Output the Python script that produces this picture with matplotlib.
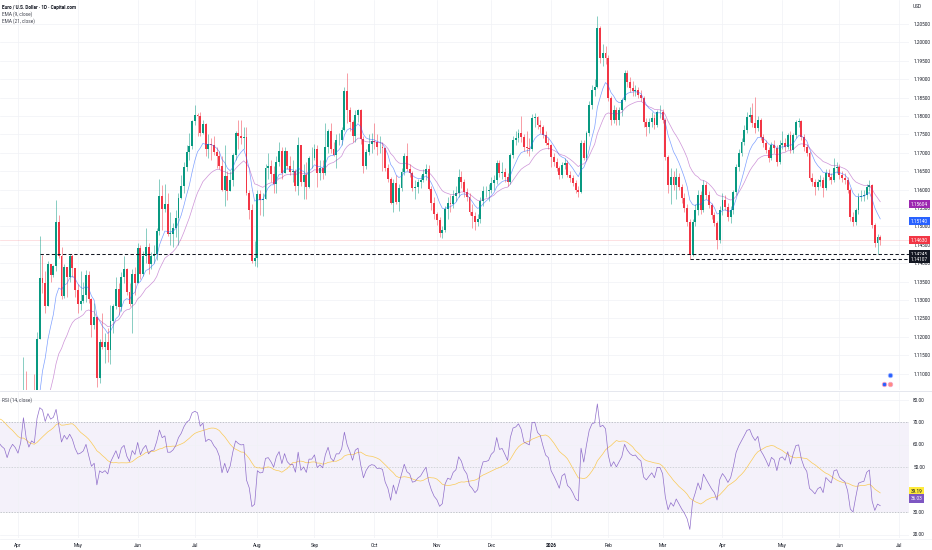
import numpy as np
import pandas as pd
import matplotlib
matplotlib.use("Agg")
import matplotlib.pyplot as plt
import matplotlib.transforms as mtrans
from matplotlib.lines import Line2D

plt.rcParams['font.family'] = ['Roboto', 'DejaVu Sans']

# ---------------- data ----------------
# closes before the first visible bar (used only to warm up EMA / RSI)
warmup_close = [1.0345, 1.0378, 1.0403, 1.0384, 1.0330, 1.0307, 1.0362, 1.0385, 1.0465, 1.0491,
                1.0483, 1.0446, 1.0425, 1.0501, 1.0458, 1.0466, 1.0512, 1.0484, 1.0398, 1.0375,
                1.0483, 1.0625, 1.0789, 1.0784, 1.0833, 1.0833, 1.0918, 1.0888, 1.0853, 1.0880,
                1.0922, 1.0944, 1.0901, 1.0853, 1.0817, 1.0802, 1.0792, 1.0753, 1.0800, 1.0829,
                1.0816]

close = [
    # Apr
    1.0794, 1.0853, 1.1049, 1.0957, 1.0909, 1.0958, 1.0948, 1.1195, 1.1359, 1.1347,
    1.1284, 1.1398, 1.1367, 1.1392, 1.1512, 1.1420, 1.1311, 1.1389, 1.1362, 1.1420,
    1.1387, 1.1328,
    # May
    1.1289, 1.1298, 1.1315, 1.1369, 1.1302, 1.1232, 1.1253, 1.1088, 1.1187, 1.1173,
    1.1187, 1.1163, 1.1243, 1.1285, 1.1329, 1.1281, 1.1363, 1.1385, 1.1323, 1.1290,
    1.1370, 1.1347,
    # Jun
    1.1442, 1.1370, 1.1419, 1.1445, 1.1397, 1.1420, 1.1425, 1.1487, 1.1584, 1.1547,
    1.1562, 1.1480, 1.1480, 1.1495, 1.1523, 1.1578, 1.1610, 1.1662, 1.1702, 1.1718,
    1.1787,
    # Jul
    1.1804, 1.1799, 1.1754, 1.1778, 1.1710, 1.1725, 1.1720, 1.1702, 1.1690, 1.1665,
    1.1598, 1.1638, 1.1597, 1.1625, 1.1693, 1.1755, 1.1745, 1.1740, 1.1742, 1.1590,
    1.1545, 1.1405, 1.1415,
    # Aug
    1.1587, 1.1572, 1.1575, 1.1660, 1.1665, 1.1643, 1.1615, 1.1675, 1.1705, 1.1645,
    1.1705, 1.1663, 1.1648, 1.1650, 1.1610, 1.1720, 1.1620, 1.1640, 1.1608, 1.1685,
    1.1685,
    # Sep
    1.1710, 1.1645, 1.1660, 1.1645, 1.1715, 1.1760, 1.1710, 1.1695, 1.1735, 1.1735,
    1.1762, 1.1867, 1.1815, 1.1785, 1.1745, 1.1803, 1.1815, 1.1737, 1.1665, 1.1703,
    1.1725, 1.1733,
    # Oct
    1.1730, 1.1716, 1.1717, 1.1712, 1.1658, 1.1628, 1.1563, 1.1617, 1.1567, 1.1605,
    1.1647, 1.1690, 1.1655, 1.1645, 1.1605, 1.1608, 1.1620, 1.1627, 1.1643, 1.1657,
    1.1603, 1.1565, 1.1535,
    # Nov
    1.1518, 1.1483, 1.1490, 1.1546, 1.1565, 1.1560, 1.1582, 1.1590, 1.1633, 1.1620,
    1.1593, 1.1580, 1.1540, 1.1528, 1.1512, 1.1519, 1.1568, 1.1596, 1.1597, 1.1600,
    # Dec
    1.1618, 1.1626, 1.1672, 1.1645, 1.1648, 1.1635, 1.1621, 1.1694, 1.1735, 1.1740,
    1.1754, 1.1743, 1.1716, 1.1713, 1.1710, 1.1795, 1.1797, 1.1776, 1.1770, 1.1748,
    1.1727, 1.1721,
    # Jan 2026
    1.1689, 1.1675, 1.1659, 1.1640, 1.1667, 1.1672, 1.1640, 1.1632, 1.1618, 1.1599,
    1.1593, 1.1727, 1.1686, 1.1754, 1.1830, 1.1871, 1.1879, 1.2039, 1.1958, 1.1971,
    1.1958,
    # Feb
    1.1849, 1.1789, 1.1816, 1.1789, 1.1816, 1.1844, 1.1917, 1.1892, 1.1876, 1.1868,
    1.1871, 1.1857, 1.1849, 1.1783, 1.1770, 1.1783, 1.1795, 1.1776, 1.1811, 1.1811,
    # Mar
    1.1789, 1.1689, 1.1613, 1.1635, 1.1613, 1.1635, 1.1607, 1.1577, 1.1550, 1.1512,
    1.1422, 1.1512, 1.1545, 1.1585, 1.1545, 1.1613, 1.1585, 1.1558, 1.1531, 1.1509,
    1.1463, 1.1545,
    # Apr
    1.1572, 1.1553, 1.1526, 1.1545, 1.1593, 1.1662, 1.1700, 1.1730, 1.1762, 1.1797,
    1.1803, 1.1781, 1.1767, 1.1789, 1.1743, 1.1727, 1.1708, 1.1686, 1.1721, 1.1713,
    1.1675, 1.1721,
    # May
    1.1727, 1.1716, 1.1748, 1.1708, 1.1748, 1.1783, 1.1786, 1.1743, 1.1716, 1.1700,
    1.1632, 1.1621, 1.1607, 1.1621, 1.1626, 1.1604, 1.1645, 1.1635, 1.1626, 1.1659,
    1.1662,
    # Jun
    1.1640, 1.1632, 1.1626, 1.1599, 1.1526, 1.1512, 1.1545, 1.1580, 1.1583, 1.1585,
    1.1607, 1.1613, 1.1504, 1.1455, 1.1471, 1.1463,
]

high = [
    1.0831, 1.0882, 1.1144, 1.1107, 1.1045, 1.1000, 1.1099, 1.1214, 1.1474, 1.1422,
    1.1380, 1.1405, 1.1391, 1.1395, 1.1573, 1.1531, 1.1445, 1.1398, 1.1387, 1.1424,
    1.1424, 1.1383,
    1.1343, 1.1380, 1.1349, 1.1381, 1.1380, 1.1305, 1.1293, 1.1253, 1.1195, 1.1265,
    1.1210, 1.1225, 1.1287, 1.1290, 1.1363, 1.1345, 1.1376, 1.1419, 1.1386, 1.1345,
    1.1385, 1.1391,
    1.1455, 1.1450, 1.1434, 1.1495, 1.1455, 1.1430, 1.1450, 1.1495, 1.1630, 1.1613,
    1.1615, 1.1590, 1.1540, 1.1510, 1.1545, 1.1590, 1.1641, 1.1675, 1.1720, 1.1754,
    1.1790,
    1.1830, 1.1808, 1.1810, 1.1790, 1.1780, 1.1750, 1.1740, 1.1745, 1.1715, 1.1705,
    1.1690, 1.1721, 1.1650, 1.1650, 1.1700, 1.1760, 1.1790, 1.1789, 1.1770, 1.1770,
    1.1600, 1.1560, 1.1460,
    1.1600, 1.1598, 1.1590, 1.1670, 1.1700, 1.1680, 1.1665, 1.1690, 1.1730, 1.1715,
    1.1715, 1.1705, 1.1690, 1.1680, 1.1655, 1.1742, 1.1720, 1.1670, 1.1675, 1.1690,
    1.1715,
    1.1725, 1.1720, 1.1680, 1.1680, 1.1780, 1.1765, 1.1780, 1.1730, 1.1750, 1.1755,
    1.1770, 1.1878, 1.1918, 1.1825, 1.1790, 1.1815, 1.1820, 1.1818, 1.1745, 1.1710,
    1.1750, 1.1755,
    1.1780, 1.1750, 1.1745, 1.1730, 1.1715, 1.1670, 1.1635, 1.1630, 1.1640, 1.1615,
    1.1660, 1.1700, 1.1728, 1.1670, 1.1650, 1.1625, 1.1630, 1.1640, 1.1655, 1.1670,
    1.1668, 1.1610, 1.1580,
    1.1540, 1.1525, 1.1500, 1.1555, 1.1580, 1.1585, 1.1600, 1.1610, 1.1655, 1.1650,
    1.1630, 1.1605, 1.1590, 1.1560, 1.1540, 1.1535, 1.1580, 1.1610, 1.1610, 1.1615,
    1.1635, 1.1640, 1.1680, 1.1680, 1.1675, 1.1660, 1.1645, 1.1700, 1.1745, 1.1760,
    1.1765, 1.1800, 1.1750, 1.1760, 1.1740, 1.1805, 1.1808, 1.1800, 1.1790, 1.1775,
    1.1760, 1.1740,
    1.1725, 1.1700, 1.1685, 1.1665, 1.1675, 1.1685, 1.1680, 1.1650, 1.1640, 1.1625,
    1.1610, 1.1735, 1.1735, 1.1760, 1.1840, 1.1885, 1.1900, 1.2072, 1.2045, 1.1995,
    1.1990,
    1.1965, 1.1855, 1.1830, 1.1825, 1.1825, 1.1850, 1.1925, 1.1925, 1.1905, 1.1895,
    1.1885, 1.1880, 1.1870, 1.1855, 1.1795, 1.1795, 1.1810, 1.1805, 1.1815, 1.1830,
    1.1820, 1.1795, 1.1695, 1.1660, 1.1650, 1.1660, 1.1645, 1.1615, 1.1590, 1.1560,
    1.1520, 1.1520, 1.1560, 1.1600, 1.1595, 1.1625, 1.1620, 1.1595, 1.1565, 1.1540,
    1.1515, 1.1555,
    1.1590, 1.1585, 1.1565, 1.1555, 1.1600, 1.1670, 1.1710, 1.1740, 1.1775, 1.1810,
    1.1825, 1.1835, 1.1852, 1.1800, 1.1795, 1.1750, 1.1735, 1.1715, 1.1730, 1.1735,
    1.1720, 1.1735,
    1.1760, 1.1740, 1.1755, 1.1760, 1.1755, 1.1790, 1.1795, 1.1790, 1.1750, 1.1725,
    1.1705, 1.1645, 1.1630, 1.1630, 1.1640, 1.1635, 1.1655, 1.1655, 1.1645, 1.1685,
    1.1675,
    1.1670, 1.1650, 1.1645, 1.1635, 1.1605, 1.1540, 1.1550, 1.1590, 1.1600, 1.1600,
    1.1615, 1.1625, 1.1615, 1.1510, 1.1480, 1.1478,
]

low = [
    1.0778, 1.0778, 1.0852, 1.0956, 1.0879, 1.0883, 1.0944, 1.0946, 1.1195, 1.1319,
    1.1265, 1.1283, 1.1350, 1.1363, 1.1380, 1.1415, 1.1302, 1.1306, 1.1307, 1.1348,
    1.1362, 1.1309,
    1.1266, 1.1273, 1.1291, 1.1294, 1.1293, 1.1200, 1.1220, 1.1065, 1.1075, 1.1167,
    1.1130, 1.1131, 1.1126, 1.1210, 1.1277, 1.1258, 1.1271, 1.1345, 1.1314, 1.1285,
    1.1210, 1.1314,
    1.1345, 1.1358, 1.1364, 1.1400, 1.1372, 1.1385, 1.1400, 1.1410, 1.1478, 1.1490,
    1.1538, 1.1475, 1.1450, 1.1445, 1.1470, 1.1450, 1.1575, 1.1590, 1.1650, 1.1680,
    1.1710,
    1.1775, 1.1745, 1.1745, 1.1750, 1.1690, 1.1685, 1.1680, 1.1695, 1.1660, 1.1655,
    1.1595, 1.1556, 1.1572, 1.1597, 1.1610, 1.1680, 1.1710, 1.1725, 1.1710, 1.1585,
    1.1520, 1.1400, 1.1392,
    1.1391, 1.1530, 1.1528, 1.1575, 1.1630, 1.1620, 1.1590, 1.1590, 1.1665, 1.1630,
    1.1645, 1.1655, 1.1640, 1.1620, 1.1595, 1.1585, 1.1610, 1.1575, 1.1575, 1.1605,
    1.1660,
    1.1680, 1.1608, 1.1625, 1.1630, 1.1640, 1.1700, 1.1700, 1.1690, 1.1660, 1.1720,
    1.1720, 1.1760, 1.1780, 1.1760, 1.1730, 1.1730, 1.1785, 1.1725, 1.1645, 1.1657,
    1.1695, 1.1700,
    1.1710, 1.1695, 1.1700, 1.1650, 1.1650, 1.1620, 1.1560, 1.1540, 1.1560, 1.1542,
    1.1595, 1.1640, 1.1650, 1.1635, 1.1595, 1.1575, 1.1590, 1.1605, 1.1620, 1.1625,
    1.1600, 1.1545, 1.1520,
    1.1505, 1.1470, 1.1468, 1.1485, 1.1520, 1.1540, 1.1550, 1.1570, 1.1580, 1.1605,
    1.1580, 1.1570, 1.1530, 1.1495, 1.1490, 1.1500, 1.1510, 1.1555, 1.1580, 1.1570,
    1.1590, 1.1600, 1.1615, 1.1635, 1.1630, 1.1620, 1.1610, 1.1615, 1.1685, 1.1720,
    1.1730, 1.1730, 1.1705, 1.1700, 1.1690, 1.1705, 1.1770, 1.1765, 1.1755, 1.1740,
    1.1720, 1.1710,
    1.1662, 1.1665, 1.1650, 1.1630, 1.1632, 1.1655, 1.1635, 1.1620, 1.1610, 1.1590,
    1.1580, 1.1590, 1.1680, 1.1680, 1.1745, 1.1820, 1.1855, 1.1875, 1.1945, 1.1935,
    1.1940,
    1.1840, 1.1775, 1.1780, 1.1775, 1.1775, 1.1800, 1.1840, 1.1880, 1.1865, 1.1855,
    1.1855, 1.1850, 1.1840, 1.1770, 1.1745, 1.1755, 1.1770, 1.1765, 1.1770, 1.1795,
    1.1780, 1.1680, 1.1590, 1.1560, 1.1600, 1.1575, 1.1600, 1.1565, 1.1540, 1.1500,
    1.1411, 1.1420, 1.1500, 1.1530, 1.1535, 1.1540, 1.1575, 1.1550, 1.1520, 1.1500,
    1.1440, 1.1455,
    1.1530, 1.1545, 1.1515, 1.1510, 1.1535, 1.1585, 1.1650, 1.1690, 1.1720, 1.1755,
    1.1785, 1.1770, 1.1755, 1.1760, 1.1735, 1.1715, 1.1700, 1.1675, 1.1680, 1.1700,
    1.1665, 1.1670,
    1.1710, 1.1705, 1.1710, 1.1700, 1.1700, 1.1740, 1.1770, 1.1735, 1.1705, 1.1690,
    1.1625, 1.1610, 1.1585, 1.1600, 1.1610, 1.1580, 1.1600, 1.1625, 1.1615, 1.1620,
    1.1645,
    1.1630, 1.1620, 1.1615, 1.1590, 1.1515, 1.1500, 1.1505, 1.1535, 1.1570, 1.1570,
    1.1575, 1.1595, 1.1495, 1.1445, 1.1424, 1.1450,
]

month_labels = ['Apr', 'May', 'Jun', 'Jul', 'Aug', 'Sep', 'Oct', 'Nov', 'Dec',
                '2026', 'Feb', 'Mar', 'Apr', 'May', 'Jun', 'Jul']
month_start = [0, 22, 44, 65, 88, 109, 131, 154, 174, 196, 217, 237, 259, 281, 302, 324]

price_ticks = [1.110, 1.115, 1.120, 1.125, 1.130, 1.135, 1.140, 1.145, 1.150, 1.155,
               1.160, 1.165, 1.170, 1.175, 1.180, 1.185, 1.190, 1.195, 1.200, 1.205]
rsi_ticks = [20, 30, 50, 60, 70, 80]

level_values = [1.14245, 1.14107]
level_start = [8, 247]

ema21_last = 1.15604
ema9_last = 1.15140
last_price = 1.14630
rsi_last = 36.03
rsi_ma_last = 39.19

# ---------------- indicators ----------------
W = len(warmup_close)
allc = np.array(warmup_close + close, dtype=float)
n = len(close)
x_all = np.arange(-W, n)
x = np.arange(n)
C = np.array(close)
O = allc[W - 1:-1]
H = np.maximum(np.array(high), np.maximum(O, C))
L = np.minimum(np.array(low), np.minimum(O, C))


def ema(src, length):
    out = np.full(len(src), np.nan)
    out[length - 1] = src[:length].mean()
    a = 2.0 / (length + 1)
    for k in range(length, len(src)):
        out[k] = a * src[k] + (1 - a) * out[k - 1]
    return out


def rsi(src, length=14):
    d = np.diff(src)
    up = np.maximum(d, 0)
    dn = np.maximum(-d, 0)
    out = np.full(len(src), np.nan)
    au = up[:length].mean()
    ad = dn[:length].mean()
    out[length] = 100 - 100 / (1 + au / ad)
    for k in range(length + 1, len(src)):
        au = (au * (length - 1) + up[k - 1]) / length
        ad = (ad * (length - 1) + dn[k - 1]) / length
        out[k] = 100.0 if ad == 0 else 100 - 100 / (1 + au / ad)
    return out


ema9 = ema(allc, 9)
ema21 = ema(allc, 21)
rsi14 = rsi(allc, 14)
rsi_ma = pd.Series(rsi14).rolling(14).mean().values

# ---------------- figure ----------------
FW, FH = 932, 550
fig = plt.figure(figsize=(FW / 100, FH / 100), dpi=100)
fig.patch.set_facecolor('white')


def fx(px):
    return px / FW


def fy(py):
    return 1 - py / FH


ax = fig.add_axes([0, fy(390), fx(909), 390 / FH])
ax2 = fig.add_axes([0, fy(538), fx(909), 146 / FH])

GREEN = '#089981'
RED = '#f23645'
TXT = '#131722'
GRID = '#f0f2f6'
FS = 3.4

x_left = -18 / 2.72
x_right = (909 - 18) / 2.72

# candles
cols = np.where(C >= O, GREEN, RED)
ax.vlines(x, L, H, colors=cols, lw=0.4, alpha=0.85, zorder=3)
body = np.maximum(np.abs(C - O), 0.00008)
ax.bar(x, body, bottom=np.minimum(O, C), width=0.72, color=cols, lw=0, zorder=4)

ax.plot(x_all, ema9, color='#2962ff', lw=0.5, alpha=0.6, zorder=5)
ax.plot(x_all, ema21, color='#9c27b0', lw=0.5, alpha=0.5, zorder=5)

ax.axhline(last_price, color=RED, lw=0.5, alpha=0.22, zorder=2)
for v, s in zip(level_values, level_start):
    ax.hlines(v, s, x_right, colors=TXT, lw=0.75, linestyles=(0, (3.2, 2.2)), zorder=6)

ax.set_xlim(x_left, x_right)
ax.set_ylim(1.21152 - 0.0002717 * 390, 1.21152)
ax.set_xticks(month_start)
ax.set_yticks(price_ticks)
ax.set_yticklabels([f'{t:.5f}' for t in price_ticks])
ax.yaxis.tick_right()
ax.tick_params(axis='x', length=0, labelbottom=False)
ax.tick_params(axis='y', length=0, pad=3, labelsize=FS, labelcolor=TXT)
ax.grid(True, color=GRID, lw=0.5, zorder=0)
for s in ax.spines.values():
    s.set_visible(False)

# price-scale boxes
trans = mtrans.blended_transform_factory(fig.transFigure, ax.transData)
for val, txt, col in [(ema21_last, f'{ema21_last:.5f}', '#9c27b0'),
                      (ema9_last, f'{ema9_last:.5f}', '#2962ff'),
                      (last_price, f'{last_price:.5f}', RED),
                      (level_values[0], f'{level_values[0]:.5f}', TXT),
                      (level_values[1], f'{level_values[1]:.5f}', TXT)]:
    ax.text(fx(911), val, txt, transform=trans, ha='left', va='center', fontsize=FS,
            color='white', clip_on=False, zorder=20,
            bbox=dict(boxstyle='square,pad=0.35', fc=col, ec='none'))

# RSI pane
ax2.axhspan(30, 70, color='#7e57c2', alpha=0.08, lw=0, zorder=1)
for lv, a in [(70, 0.55), (50, 0.35), (30, 0.55)]:
    ax2.axhline(lv, color='#787b86', lw=0.5, alpha=a, ls=(0, (2, 2)), zorder=2)
ax2.plot(x_all, rsi_ma, color='#fbc02d', lw=0.5, alpha=0.8, zorder=3)
ax2.plot(x_all, rsi14, color='#7e57c2', lw=0.5, alpha=0.85, zorder=4)
ax2.set_xlim(x_left, x_right)
ax2.set_ylim(50 - 71 / 2.25, 50 + 75 / 2.25)
ax2.set_yticks(rsi_ticks)
ax2.set_yticklabels([f'{t:.2f}' for t in rsi_ticks])
ax2.yaxis.tick_right()
ax2.set_xticks(month_start)
ax2.set_xticklabels(month_labels)
for lab in ax2.get_xticklabels():
    if lab.get_text() == '2026':
        lab.set_fontweight('bold')
ax2.tick_params(axis='x', length=0, pad=3.3, labelsize=FS, labelcolor=TXT)
ax2.tick_params(axis='y', length=0, pad=3, labelsize=FS, labelcolor=TXT)
ax2.grid(True, color=GRID, lw=0.5, zorder=0)
for s in ax2.spines.values():
    s.set_visible(False)

trans2 = mtrans.blended_transform_factory(fig.transFigure, ax2.transData)
ax2.text(fx(911), rsi_ma_last, f'{rsi_ma_last:.2f}', transform=trans2, ha='left', va='center',
         fontsize=FS, color=TXT, clip_on=False, zorder=20,
         bbox=dict(boxstyle='square,pad=0.35', fc='#ffeb3b', ec='none'))
ax2.text(fx(911), rsi_last, f'{rsi_last:.2f}', transform=trans2, ha='left', va='center',
         fontsize=FS, color='white', clip_on=False, zorder=20,
         bbox=dict(boxstyle='square,pad=0.35', fc='#7e57c2', ec='none'))

# separators
fig.add_artist(Line2D([0, 1], [fy(391), fy(391)], color='#e0e3eb', lw=0.6))
fig.add_artist(Line2D([0, 1], [fy(538.5), fy(538.5)], color='#eef0f4', lw=0.5))

# header texts
fig.text(fx(2), fy(7), 'Euro / U.S. Dollar · 1D · Capital.com', fontsize=FS, color=TXT,
         fontweight='bold', va='center', ha='left')
fig.text(fx(2), fy(14), 'EMA (9, close)', fontsize=FS, color='#434651', va='center', ha='left')
fig.text(fx(2), fy(21), 'EMA (21, close)', fontsize=FS, color='#434651', va='center', ha='left')
fig.text(fx(2), fy(400), 'RSI (14, close)', fontsize=FS, color='#434651', va='center', ha='left')
fig.text(fx(913), fy(7), 'USD', fontsize=FS, color=TXT, va='center', ha='left')

# small pane icons
fig.add_artist(Line2D([fx(890)], [fy(375)], marker='o', ms=3.2, mfc='#2962ff', mec='#9fb4ff', mew=0.6))
fig.add_artist(Line2D([fx(884)], [fy(384)], marker='o', ms=3.2, mfc='#2962ff', mec='#f7a1c4', mew=0.6))
fig.add_artist(Line2D([fx(890)], [fy(384)], marker='o', ms=3.2, mfc='#ff8a80', mec='#f7a1c4', mew=0.6))

fig.savefig('out.png', dpi=100, facecolor='white')
